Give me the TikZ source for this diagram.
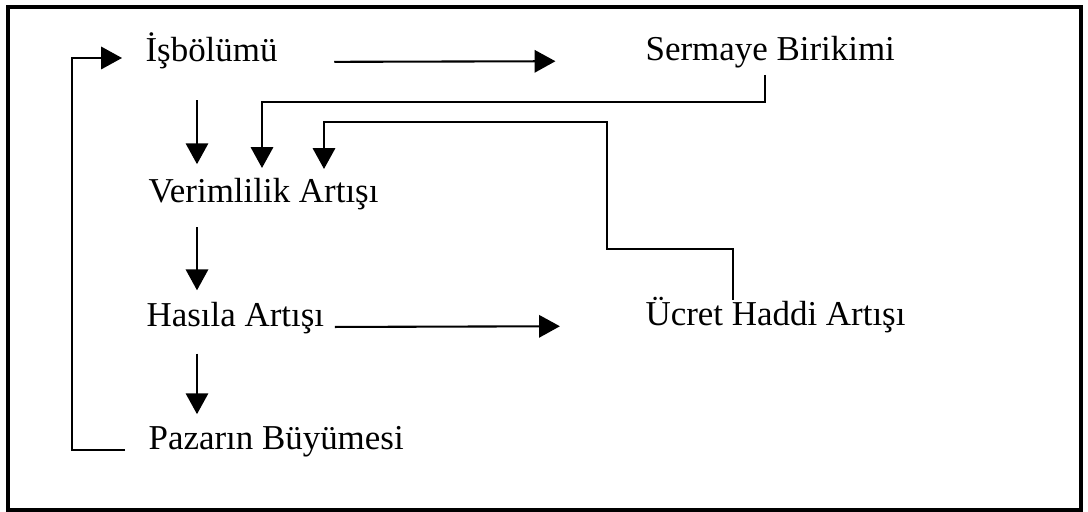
\documentclass[tikz,border=0pt]{standalone}
\usepackage{fontspec}
\setmainfont{Liberation Serif}
\usetikzlibrary{arrows.meta}
\usetikzlibrary{calc}

\begin{document}
\begin{tikzpicture}[x=0.335pt, y=-0.335pt,
            term/.style={anchor=base west, inner sep=0pt, text height=8.4pt,
              text depth=2.5pt, font=\fontsize{11.7}{14}\selectfont},
            arr/.style={line width=0.7pt, -{Triangle[length=7pt, width=7.5pt]}},
            wire/.style={line width=0.7pt}]
            \useasboundingbox (0,0) rectangle (1088,512);
            \draw [line width=1.2pt] (8,7) rectangle (1081,510);
            \node [term] (isb) at (145,62) {İşbölümü};
            \node [term] (serm) at (645,61) {Sermaye Birikimi};
            \node [term] (ver) at (148,203) {Verimlilik Artışı};
            \node [term] (has) at (146,327) {Hasıla Artışı};
            \node [term] (ucret) at (645,326) {Ücret Haddi Artışı};
            \node [term] (paz) at (148,450) {Pazarın Büyümesi};
            \coordinate (spine) at (197,0);
            \draw [arr, shorten <=18.8pt, shorten >=30pt] (isb.base east) -- (serm.base west);
            \draw [arr, shorten <=3.4pt, shorten >=28.5pt] (has.base east) -- (ucret.base west);
            \draw [arr, shorten <=10.2pt, shorten >=4.4pt] (isb.south -| spine) -- (ver.north -| spine);
            \draw [arr, shorten <=5.5pt, shorten >=3.7pt] (ver.south -| spine) -- (has.north -| spine);
            \draw [arr, shorten <=6.2pt, shorten >=3.4pt] (has.south -| spine) -- (paz.north -| spine);
            \draw [arr] ($(serm.base west)+(120,14)$) -- ++(0,27)
              -| ($(ver.base west)+(114,-35)$);
            \draw [arr] ($(ucret.base west)+(88,-26)$) -- ++(0,-51)
              -| ++(-126,-127) -| ($(ver.base west)+(176,-34)$);
            \draw [arr, shorten <=7.7pt, shorten >=7.7pt] (paz.base west) -- ++(-76,0)
              |- ($(isb.base west)+(0,-4)$);
\end{tikzpicture}
\end{document}
